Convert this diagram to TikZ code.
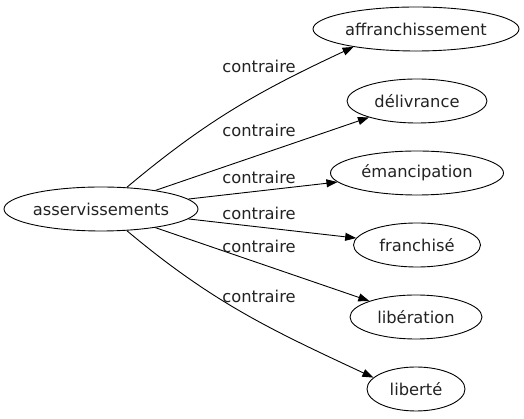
\documentclass[tikz,border=0pt]{standalone}
\usepackage{fontspec}
\setmainfont{DejaVu Sans}
\usetikzlibrary{arrows.meta,shapes.geometric}
\definecolor{inkgray}{HTML}{222222}

\begin{document}
\begin{tikzpicture}[x=1pt,y=1pt,font=\fontsize{16.3}{19}\selectfont,
  word/.style={draw,ellipse,line width=0.9pt,inner sep=0pt,minimum height=44pt,text=inkgray},
  rel/.style={-{Triangle[length=11pt,width=8pt]},line width=0.9pt}]
  \useasboundingbox (0,0) rectangle (524,419);
  \node[word,minimum width=194pt] (src) at (101,210) {asservissements};
  \foreach \n/\x/\y/\w/\lab in {affr/416/390/206/affranchissement,deliv/417/318/140/délivrance,
      emanc/417/246/173/émancipation,franch/417/174/127/franchisé,
      liber/416/102/132/libération,libt/416/30/98/liberté}{
    \node[word,minimum width=\w pt] (\n) at (\x,\y) {\lab};
  }
  \draw[rel] (src) to[out=40,in=205] (affr.196);
  \draw[rel] (src) -- (deliv);
  \draw[rel] (src) -- (emanc);
  \draw[rel] (src) -- (franch);
  \draw[rel] (src) -- (liber);
  \draw[rel] (src) to[out=-40,in=155] (libt.165);
  \foreach \i/\y in {1/346,2/282,3/235,4/199,5/166,6/116}
    \node[anchor=base,inner sep=0pt,text=inkgray] (lab\i) at (259,\y) {contraire};
\end{tikzpicture}
\end{document}
